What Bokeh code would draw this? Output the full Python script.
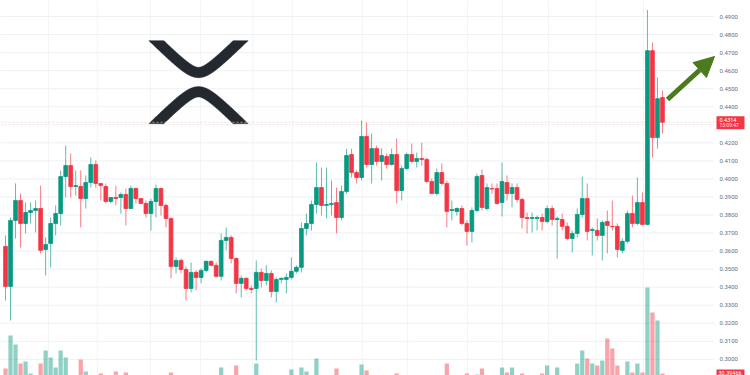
import numpy as np
from bokeh.plotting import figure
from bokeh.models import Range1d, Arrow, NormalHead, ColumnDataSource
from bokeh.core.properties import value
from bokeh.embed import file_html
from bokeh.resources import INLINE

# ---------------- data ----------------
opens = [
    .3626, .3404, .3770, .3880, .3753, .3814, .3825, .3836, .3609, .3642,
    .3753, .3808, .4013, .4074, .3958, .3958, .3891, .3980, .4080, .3975,
    .3958, .3875, .3897, .3897, .3914, .3836, .3947, .3891, .3864, .3808,
    .3875, .3947, .3853, .3781, .3515, .3548, .3498, .3393, .3482, .3454,
    .3493, .3543, .3521, .3460, .3659, .3676, .3559, .3421, .3449, .3393,
    .3393, .3482, .3437, .3476, .3376, .3443, .3443, .3454, .3488, .3510,
    .3725, .3753, .3858, .3952, .3853, .3858, .3869, .3786, .3930, .4135,
    .4035, .4008, .4235, .4080, .4168, .4097, .4124, .4080, .4135, .3936,
    .4058, .4135, .4097, .4113, .4108, .3986, .3919, .4035, .3975, .3825,
    .3820, .3836, .3753, .3709, .3825, .4019, .3836, .3947, .3947, .3869,
    .3980, .3919, .3952, .3886, .3786, .3781, .3781, .3786, .3764, .3836,
    .3775, .3775, .3737, .3670, .3698, .3803, .3891, .3714, .3714, .3687,
    .3764, .3737, .3737, .3604, .3654, .3808, .3753, .3869, .3748, .4711,
    .4229, .4451]
highs = [
    .3687, .3786, .3975, .3919, .3869, .3869, .3880, .3963, .3676, .3786,
    .3853, .4047, .4185, .4141, .4047, .4047, .4019, .4119, .4102, .3975,
    .3975, .3897, .3963, .3925, .3947, .3963, .3952, .3891, .3880, .3891,
    .3969, .3952, .3864, .3786, .3565, .3559, .3515, .3537, .3493, .3504,
    .3548, .3548, .3537, .3698, .3731, .3687, .3565, .3465, .3454, .3410,
    .3548, .3504, .3521, .3493, .3454, .3454, .3476, .3565, .3521, .3759,
    .3808, .3880, .4091, .4063, .4063, .3991, .3952, .3963, .4168, .4168,
    .4047, .4324, .4313, .4252, .4185, .4168, .4141, .4168, .4224, .4074,
    .4146, .4196, .4146, .4201, .4119, .4002, .4058, .4086, .3991, .3880,
    .3842, .3853, .3770, .3842, .4030, .4052, .3975, .3975, .3975, .4091,
    .4019, .3975, .3975, .3897, .3814, .3814, .3797, .3808, .3853, .3853,
    .3792, .3808, .3759, .3714, .3836, .4013, .3975, .3731, .3781, .3770,
    .3825, .3880, .3753, .3670, .3825, .3908, .4008, .3925, .4937, .4756,
    .4562, .4490]
lows = [
    .3326, .3215, .3670, .3620, .3698, .3753, .3703, .3587, .3465, .3510,
    .3687, .3742, .3897, .3897, .3908, .3731, .3836, .3952, .3952, .3880,
    .3864, .3864, .3853, .3808, .3742, .3836, .3864, .3864, .3786, .3714,
    .3786, .3797, .3731, .3449, .3476, .3476, .3326, .3371, .3382, .3421,
    .3482, .3515, .3454, .3437, .3604, .3532, .3365, .3343, .3382, .3365,
    .2994, .3398, .3410, .3343, .3315, .3421, .3365, .3443, .3476, .3482,
    .3687, .3714, .3808, .3797, .3781, .3797, .3698, .3770, .3919, .4008,
    .3975, .3991, .4063, .3975, .4074, .3991, .4058, .4074, .3864, .3880,
    .4047, .4086, .4063, .4074, .3975, .3919, .3908, .3963, .3731, .3770,
    .3797, .3742, .3631, .3648, .3814, .3825, .3825, .3919, .3858, .3792,
    .3880, .3842, .3869, .3725, .3698, .3703, .3714, .3714, .3753, .3742,
    .3559, .3714, .3659, .3593, .3676, .3786, .3659, .3576, .3659, .3548,
    .3587, .3714, .3565, .3587, .3642, .3731, .3742, .3742, .3742, .4119,
    .4168, .4252]
closes = [
    .3404, .3770, .3880, .3753, .3814, .3825, .3836, .3604, .3637, .3753,
    .3808, .4013, .4074, .3958, .3963, .3891, .3980, .4080, .3975, .3963,
    .3875, .3897, .3891, .3914, .3836, .3947, .3891, .3864, .3808, .3875,
    .3947, .3853, .3781, .3515, .3548, .3498, .3393, .3482, .3454, .3493,
    .3543, .3521, .3460, .3659, .3676, .3559, .3421, .3449, .3393, .3387,
    .3482, .3437, .3476, .3376, .3443, .3449, .3454, .3488, .3510, .3725,
    .3753, .3858, .3952, .3853, .3858, .3864, .3786, .3930, .4130, .4035,
    .4008, .4235, .4080, .4168, .4097, .4130, .4080, .4135, .3936, .4058,
    .4135, .4097, .4113, .4108, .3986, .3919, .4035, .3975, .3820, .3830,
    .3836, .3753, .3709, .3825, .4013, .3842, .3952, .3944, .3864, .3986,
    .3919, .3952, .3886, .3786, .3781, .3786, .3786, .3764, .3836, .3775,
    .3781, .3737, .3670, .3698, .3803, .3891, .3709, .3720, .3687, .3759,
    .3742, .3735, .3609, .3654, .3808, .3753, .3869, .3748, .4711, .4229,
    .4445, .4314]
volumes = [
    10, 43, 34, 15, 17, 5, 2, 15, 28, 21,
    11, 28, 21, 2, 2, 19, 7, 2, 2, 5,
    2, 2, 7, 2, 6, 2, 2, 2, 2, 2,
    2, 2, 2, 6, 2, 2, 2, 2, 2, 2,
    2, 2, 2, 11, 2, 2, 13, 2, 2, 2,
    15, 2, 2, 2, 2, 2, 2, 9, 2, 11,
    7, 2, 20, 2, 2, 2, 10, 2, 2, 2,
    2, 14, 8, 2, 2, 2, 2, 2, 5, 2,
    2, 2, 2, 2, 2, 2, 2, 2, 15, 2,
    2, 2, 5, 2, 4, 10, 2, 2, 2, 11,
    6, 11, 2, 5, 2, 2, 2, 5, 13, 2,
    11, 2, 2, 3, 15, 28, 20, 15, 13, 18,
    40, 30, 13, 2, 17, 6, 15, 6, 91, 66,
    58, 5]
price_ticks = [0.30, 0.31, 0.32, 0.33, 0.34, 0.35, 0.36, 0.37, 0.38, 0.39,
               0.40, 0.41, 0.42, 0.44, 0.45, 0.46, 0.47, 0.48, 0.49]
grid_ticks = [0.29, 0.30, 0.31, 0.32, 0.33, 0.34, 0.35, 0.36, 0.37, 0.38, 0.39,
              0.40, 0.41, 0.42, 0.43, 0.44, 0.45, 0.46, 0.47, 0.48, 0.49]
last_price = 0.4314
last_price_text = "0.4314"
last_time_text = "13:09:47"
volume_text = "30.39466"

# ---------------- layout constants ----------------
W, H = 750, 375
PANE = 714                      # right edge of the chart pane (px)
SP = 5.015                      # px per candle
Y_TOP, PPY = 0.4989, 0.0005543  # price at top, price per px
UP, DOWN = "#089981", "#f23645"
FONT = value("Roboto")

def X(px):
    return px / SP

def Y(py):
    return Y_TOP - PPY * py

idx = list(range(1, len(opens) + 1))
up = [c >= o for o, c in zip(opens, closes)]
src = ColumnDataSource(dict(
    x=idx, o=opens, h=highs, l=lows, c=closes, v=volumes,
    top=[max(o, c) for o, c in zip(opens, closes)],
    bot=[min(o, c) for o, c in zip(opens, closes)],
    col=[UP if u else DOWN for u in up],
))

p = figure(width=W, height=H, x_range=Range1d(0, X(W)),
           y_range=Range1d(Y(H), Y_TOP), x_axis_location=None, y_axis_location=None,
           toolbar_location=None, output_backend="svg",
           min_border=0, background_fill_color="white", border_fill_color="white")
p.outline_line_color = None
p.xgrid.visible = False
p.ygrid.visible = False

# grids (inside the pane only)
p.segment(x0=0, x1=X(PANE), y0=grid_ticks, y1=grid_ticks, line_color="#eef0f4", line_width=1)
vgrid_pos = [9.6, 19.3, 29.9, 39.9, 50.3, 58.2, 72.2, 81.2, 93.1, 100.1, 109.3, 118.7, 128.2]
p.segment(x0=vgrid_pos, x1=vgrid_pos, y0=Y(H), y1=Y_TOP, line_color="#f3f4f7", line_width=1)

# price scale labels
p.text(x=X(719), y=price_ticks, text=["%.4f" % v for v in price_ticks],
       text_font=FONT, text_font_size="6px", text_color="#6a6d78",
       text_baseline="middle", text_align="left")

# volume
p.extra_y_ranges = {"vol": Range1d(3, 378)}
p.vbar(x="x", top="v", bottom=0, width=0.85, fill_color="col", line_color=None,
       fill_alpha=0.45, y_range_name="vol", source=src)

# logo (decoration)
t = np.linspace(-60, 60, 481)
cx = 198 + t
cy = 72 - (np.sqrt(t ** 2 + 144) - 12)
gx, gy = np.gradient(cx), np.gradient(cy)
gn = np.hypot(gx, gy)
nx, ny = -gy / gn, gx / gn
half = 5.2
ox, oy = cx + nx * half, cy + ny * half
ix, iy = cx - nx * half, cy - ny * half
mo, mi = oy >= 40, iy >= 40
shx = np.concatenate([ox[mo], ix[mi][::-1]])
shy = np.concatenate([oy[mo], iy[mi][::-1]])
logo_xs = [list(X(shx)), list(X(shx))]
logo_ys = [list(Y(shy)), list(Y(163.3 - shy))]
p.patches(logo_xs, logo_ys, fill_color="#23292f", line_color="#23292f", line_width=0.5)

# last price line
p.segment(x0=0, x1=X(PANE + 2), y0=last_price, y1=last_price, line_color="#f5c9ad",
          line_width=1, line_dash="2 2", line_alpha=0.7)

# candles
p.segment(x0="x", y0="l", x1="x", y1="h", line_color="col", line_width=1,
          line_alpha=0.65, source=src)
p.vbar(x="x", top="top", bottom="bot", width=0.75, fill_color="col",
       line_color="col", line_width=0.8, source=src)

# arrow
p.add_layout(Arrow(end=NormalHead(size=20, fill_color="#4b7a1f", line_color="#4b7a1f"),
                   x_start=X(667), y_start=Y(99), x_end=X(714), y_end=Y(56),
                   line_color="#4b7a1f", line_width=5))

# last price tag
p.quad(left=X(716), right=X(744), top=last_price + 6.0 * PPY, bottom=last_price - 7.0 * PPY,
       fill_color=DOWN, line_color=None)
p.text(x=X(719), y=last_price + 2.6 * PPY, text=[last_price_text], text_font=FONT,
       text_font_size="5.5px", text_color="white", text_baseline="middle", text_align="left")
p.text(x=X(719), y=last_price - 3.2 * PPY, text=[last_time_text], text_font=FONT,
       text_font_size="5px", text_color="#ffe3e5", text_baseline="middle", text_align="left")

# volume tag
p.quad(left=X(716), right=X(744), top=Y(369), bottom=Y(H + 2),
       fill_color=DOWN, line_color=None)
p.text(x=X(718), y=Y(372.5), text=[volume_text], text_font=FONT,
       text_font_size="5.5px", text_color="white", text_baseline="middle", text_align="left")

open("out.html", "w").write(file_html(p, INLINE))
